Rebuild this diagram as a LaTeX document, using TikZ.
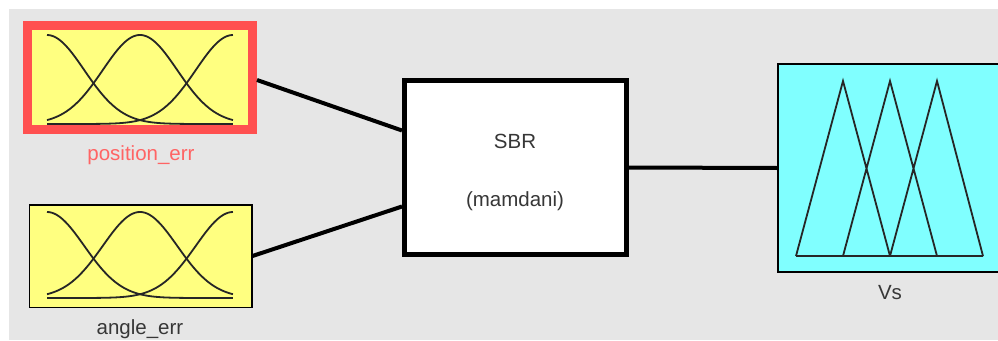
\documentclass[tikz,border=0pt]{standalone}
\usepackage{fontspec}
\setmainfont{Liberation Sans}
\usetikzlibrary{calc}

\definecolor{panelgray}{RGB}{230,230,230}
\definecolor{inyellow}{RGB}{255,255,128}
\definecolor{outcyan}{RGB}{128,255,255}
\definecolor{selred}{RGB}{255,80,80}
\definecolor{sellabel}{RGB}{255,100,100}
\definecolor{labelgray}{RGB}{55,55,55}

% three Gaussian membership functions spread over [#1,#2], baseline #3, peak #4
\newcommand{\gaussmfs}[4]{%
  \foreach \c in {0,0.5,1}{%
    \draw[mfline] plot[domain=0:1, samples=81]
      ({#1+(#2-#1)*\x}, {#3-(#3-#4)*exp(-0.5*((\x-\c)/0.2)^2)});
  }%
}

\begin{document}
\begin{tikzpicture}[x=1pt, y=-1pt,
  every node/.style={font=\fontsize{20.5}{24}\selectfont},
  invar/.style={draw=black, line width=1.5pt, fill=inyellow, rectangle, inner sep=0pt},
  selvar/.style={draw=selred, line width=9pt, fill=inyellow, rectangle, inner sep=0pt},
  outvar/.style={draw=black, line width=1.5pt, fill=outcyan, rectangle, inner sep=0pt},
  rulebox/.style={draw=black, line width=5pt, fill=white, rectangle, inner sep=0pt},
  varlabel/.style={text=labelgray, anchor=base},
  wire/.style={line width=4pt, black},
  mfline/.style={line width=1.8pt, black!85}]

  \clip (0,0) rectangle (998,340);
  \fill[white] (0,0) rectangle (998,340);
  \fill[panelgray] (9,9) rectangle (998,340);

  % input variables
  \node[selvar, minimum width=225pt, minimum height=104pt] (pos) at (140,77.5) {};
  \node[invar, minimum width=222.5pt, minimum height=102.5pt] (ang) at (140.5,256) {};
  \gaussmfs{47}{233}{124}{35}
  \gaussmfs{47}{233}{298}{212}
  \node[varlabel, text=sellabel] (poslabel) at (141,160) {position\_err};
  \node[varlabel] (anglabel) at (140,334) {angle\_err};

  % rule system
  \node[rulebox, minimum width=222pt, minimum height=174pt] (sbr) at (515.5,167.5) {};
  \node[varlabel] (sbrname) at (515,148) {SBR};
  \node[varlabel] (sbrtype) at (515,206) {(mamdani)};

  % output variable
  \node[outvar, minimum width=224pt, minimum height=208pt] (vs) at (890,168) {};
  \draw[mfline, line join=miter]
    (796,256) -- (843,81) -- (890,256)
    (843,256) -- (890,81) -- (937,256)
    (890,256) -- (937,81) -- (983,256)
    (796,256) -- (983,256);
  \node[varlabel] (vslabel) at (890,299) {Vs};

  % connections
  \coordinate (sbrin1) at ($(sbr.west)+(0,-37)$);
  \coordinate (sbrin2) at ($(sbr.west)+(0,39)$);
  \draw[wire] ($(pos.east)+(0,2.5)$) -- (sbrin1);
  \draw[wire] (ang.east) -- (sbrin2);
  \draw[wire] (sbr.east) -- (vs.west);
\end{tikzpicture}
\end{document}
